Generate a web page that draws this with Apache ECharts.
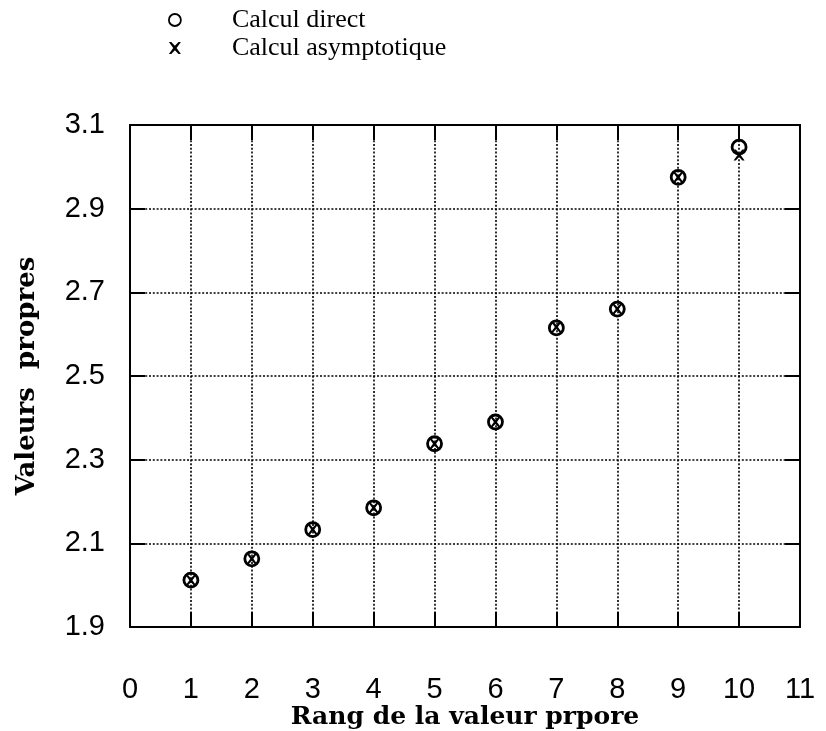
<!DOCTYPE html>
<html>
<head>
<meta charset="utf-8">
<style>
  html, body { margin: 0; padding: 0; background: #fff; }
  #chart { width: 826px; height: 731px; }
</style>
<script src="https://cdn.jsdelivr.net/npm/echarts@6/dist/echarts.min.js"></script>
</head>
<body>
<div id="chart"></div>
<script>
// rang de la valeur propre (1..10)
const ranks = [1, 2, 3, 4, 5, 6, 7, 8, 9, 10];
const direct = [2.012, 2.063, 2.133, 2.185, 2.338, 2.39, 2.615, 2.66, 2.975, 3.047];
const asymptotique = [2.012, 2.063, 2.133, 2.185, 2.338, 2.39, 2.617, 2.66, 2.975, 3.028];
const xTicks = [0, 1, 2, 3, 4, 5, 6, 7, 8, 9, 10, 11];
const yTicks = [1.9, 2.1, 2.3, 2.5, 2.7, 2.9, 3.1];

const crossPath = "path://M0,0L2,0L5,3.2L8,0L10,0L6.4,5L10,10L8,10L5,6.8L2,10L0,10L3.6,5Z";

const chart = echarts.init(document.getElementById("chart"), null, { renderer: "canvas" });

const axisLine = { show: true, onZero: false, lineStyle: { color: "#000", width: 2 } };
const tickIn = { show: true, inside: true, length: 15, lineStyle: { color: "#000", width: 2 } };
const dotted = { show: true, lineStyle: { color: "#000", width: 1.6, type: [2, 1.8] } };
const tickFont = { color: "#000", fontFamily: "Liberation Sans", fontSize: 29 };
const titleFont = { color: "#000", fontFamily: "DejaVu Serif", fontWeight: "bold", fontSize: 25 };

chart.setOption({
  animation: false,
  backgroundColor: "#fff",
  grid: { left: 130, right: 26, top: 125, bottom: 104, outerBoundsMode: "none", containLabel: false },
  legend: {
    orient: "vertical",
    left: 163,
    top: 2,
    itemWidth: 12,
    itemHeight: 12,
    itemGap: 2,
    selectedMode: false,
    textStyle: { color: "#000", fontFamily: "Liberation Serif", fontSize: 26, padding: [0, 0, 0, 46] },
    data: [
      { name: "Calcul direct", icon: "circle", itemStyle: { color: "transparent", borderColor: "#000", borderWidth: 1.8 } },
      { name: "Calcul asymptotique", icon: crossPath, itemStyle: { color: "#000", borderWidth: 0 } }
    ]
  },
  xAxis: [
    {
      type: "value", position: "bottom", min: 0, max: 11, interval: 1,
      axisLine: axisLine, axisTick: tickIn, splitLine: dotted,
      axisLabel: Object.assign({ margin: 48, formatter: v => xTicks.includes(v) ? String(v) : "" }, tickFont),
      name: "Rang de la valeur prpore", nameLocation: "middle", nameGap: 78, nameMoveOverlap: false,
      nameTextStyle: titleFont
    },
    {
      type: "value", position: "top", min: 0, max: 11, interval: 1,
      axisLine: axisLine, axisTick: tickIn, splitLine: { show: false }, axisLabel: { show: false }
    }
  ],
  yAxis: [
    {
      type: "value", position: "left", min: 1.9, max: 3.1, interval: 0.2,
      axisLine: axisLine, axisTick: tickIn, splitLine: dotted,
      axisLabel: Object.assign({ margin: 25, formatter: v => v.toFixed(1) }, tickFont),
      name: "Valeurs  propres", nameLocation: "middle", nameGap: 90, nameMoveOverlap: false,
      nameTextStyle: Object.assign({}, titleFont, { fontSize: 26 })
    },
    {
      type: "value", position: "right", min: 1.9, max: 3.1, interval: 0.2,
      axisLine: axisLine, axisTick: tickIn, splitLine: { show: false }, axisLabel: { show: false }
    }
  ],
  series: [
    {
      name: "Calcul direct",
      type: "scatter",
      symbol: "circle",
      symbolSize: 14,
      itemStyle: { color: "transparent", borderColor: "#000", borderWidth: 2.8, opacity: 1 },
      data: ranks.map((r, i) => [r, direct[i]]),
      z: 3
    },
    {
      name: "Calcul asymptotique",
      type: "scatter",
      symbol: crossPath,
      symbolSize: 11,
      itemStyle: { color: "#000", opacity: 1 },
      data: ranks.map((r, i) => [r, asymptotique[i]]),
      z: 4
    }
  ]
});
</script>
</body>
</html>
